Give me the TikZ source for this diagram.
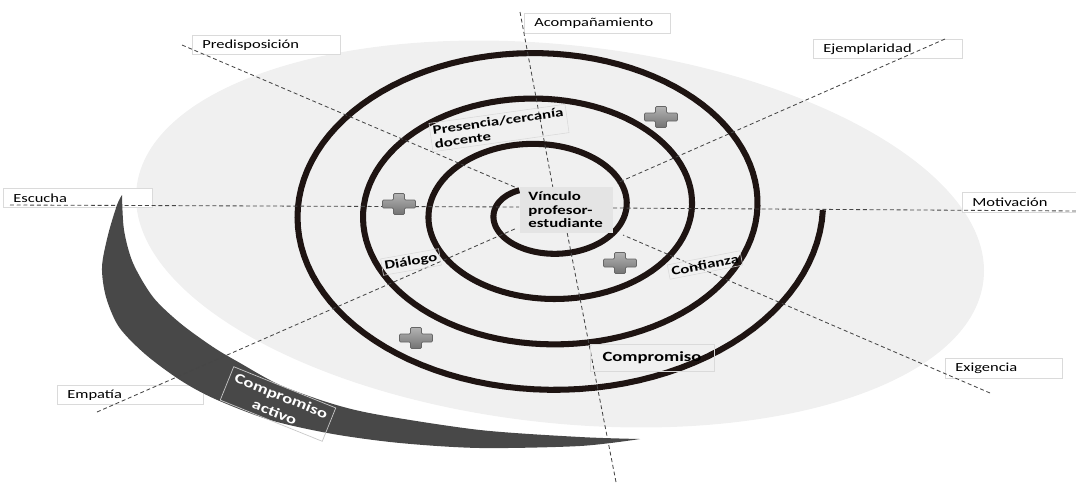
\documentclass[tikz,border=0pt]{standalone}
\usepackage{fontspec}
\setmainfont{Carlito}[FakeStretch=1.33]
\usepackage{xcolor}
\usepackage{tikz}
\usetikzlibrary{positioning}
\definecolor{discgray}{RGB}{240,240,240}
\definecolor{bandgray}{RGB}{72,72,72}
\definecolor{spiralink}{RGB}{30,20,18}
\definecolor{guidegray}{RGB}{70,70,70}
\definecolor{boxline}{RGB}{218,218,218}
\definecolor{corefill}{RGB}{228,228,228}

\begin{document}
\begin{tikzpicture}[x=0.025cm, y=-0.025cm,
  lbl/.style={draw=boxline, fill=white, line width=0.5pt, anchor=west, align=left,
    inner xsep=0.25cm, inner ysep=0pt, minimum height=0.49cm, font=\fontsize{8.8}{10}\selectfont},
  tag/.style={draw=boxline, line width=0.4pt, inner sep=2pt, align=left,
    font=\bfseries\fontsize{9}{10}\selectfont},
  guide/.style={draw=guidegray, line width=0.6pt, dash pattern=on 2.8pt off 2pt},
  spiral/.style={draw=spiralink, line width=4.3pt}]
\useasboundingbox (0,0) rectangle (1076,482);

% Light disc behind the spiral
\fill[discgray, rotate around={-6.2:(560,234)}] (560,234) ellipse [x radius=426, y radius=189];

% Outer labels
\node[lbl, text width=3.2cm] (predisp) at (192,45) {Predisposición};
\node[lbl, text width=3.15cm] (acomp) at (524,23.5) {Acompañamiento};
\node[lbl, text width=3.22cm] (ejempl) at (813,49) {Ejemplaridad};
\node[lbl, text width=3.22cm] (escucha) at (3,198) {Escucha};
\node[lbl, text width=2.45cm] (motiv) at (962,202.5) {Motivación};
\node[lbl, text width=2.43cm] (exig) at (945,368.5) {Exigencia};
\node[lbl, text width=3.15cm] (empat) at (57,395) {Empatía};

% Dark band round the lower left
\fill[bandgray] plot[smooth] coordinates {(122,195) (117,205) (108,235) (102,267) (106,297)
    (119,327) (145,354) (180,380) (215,399) (270,420) (333,434) (400,443) (480,448) (580,446) (640,439)}
  -- plot[smooth] coordinates {(640,439) (580,437) (480,430) (380,415) (333,404) (280,385)
    (240,363) (213,347) (180,323) (153,297) (133,263) (124,230) (122,195)} -- cycle;

% Spiral
\draw[spiral] plot[domain=128:1440, samples=400, variable=\t]
  ({543.9+(16.6+0.18221*\t)*cos(\t)}, {210.1-(9.0+0.12636*\t)*sin(\t)});

% Dashed guides
\coordinate (eTop) at (520,12);  \coordinate (cTop) at (553,188);
\coordinate (eBot) at (616,482); \coordinate (cBot) at (567,232);
\coordinate (ePre) at (182,45);  \coordinate (cPre) at (517,188);
\coordinate (eEje) at (945,39);  \coordinate (cEje) at (617,183);
\coordinate (eEsc) at (10,205);  \coordinate (cEsc) at (519,207);
\coordinate (eMot) at (1076,211); \coordinate (cMot) at (613,208);
\coordinate (eEmp) at (97,412);  \coordinate (cEmp) at (517,228);
\coordinate (eExi) at (990,393); \coordinate (cExi) at (623,235);
\foreach \p in {Top,Bot,Pre,Eje,Esc,Mot,Emp,Exi}
  \draw[guide] (e\p) -- (c\p);

% Centre and ring labels
\node[fill=corefill, text width=1.9cm, inner xsep=0.2cm, minimum height=1.15cm, align=left,
  font=\bfseries\fontsize{9}{9.6}\selectfont] (vinculo) at (566.5,210) {Vínculo\\profesor-\\estudiante};
\node[tag, rotate=8] (presencia) at (499,128) {Presencia/cercanía\\docente};
\node[tag, rotate=10] (dialogo) at (411,262) {Diálogo};
\node[tag, rotate=11] (confianza) at (705,265) {Confianza};
\node[tag, font=\bfseries\fontsize{10}{12}\selectfont, minimum width=3.1cm, minimum height=0.67cm,
  align=center] (compromiso) at (652,358) {Compromiso};
\node[draw=white!70!bandgray, line width=0.5pt, rotate=-22, text=white, align=center,
  font=\bfseries\fontsize{10}{12.5}\selectfont, minimum width=2.75cm, minimum height=0.9cm,
  inner sep=1pt] (activo) at (278,404) {Compromiso\\activo};

% Plus signs
\foreach \cx/\cy in {399/204, 661/117, 620/263, 416/338}
  \shade[draw=black!60, line width=0.5pt, top color=black!30, bottom color=black!55, rounded corners=0.8pt]
    (\cx-5.5,\cy-10.5) -- ++(11,0) -- ++(0,6.5) -- ++(11,0) -- ++(0,8) -- ++(-11,0) -- ++(0,6.5)
    -- ++(-11,0) -- ++(0,-6.5) -- ++(-11,0) -- ++(0,-8) -- ++(11,0) -- cycle;
\end{tikzpicture}
\end{document}
